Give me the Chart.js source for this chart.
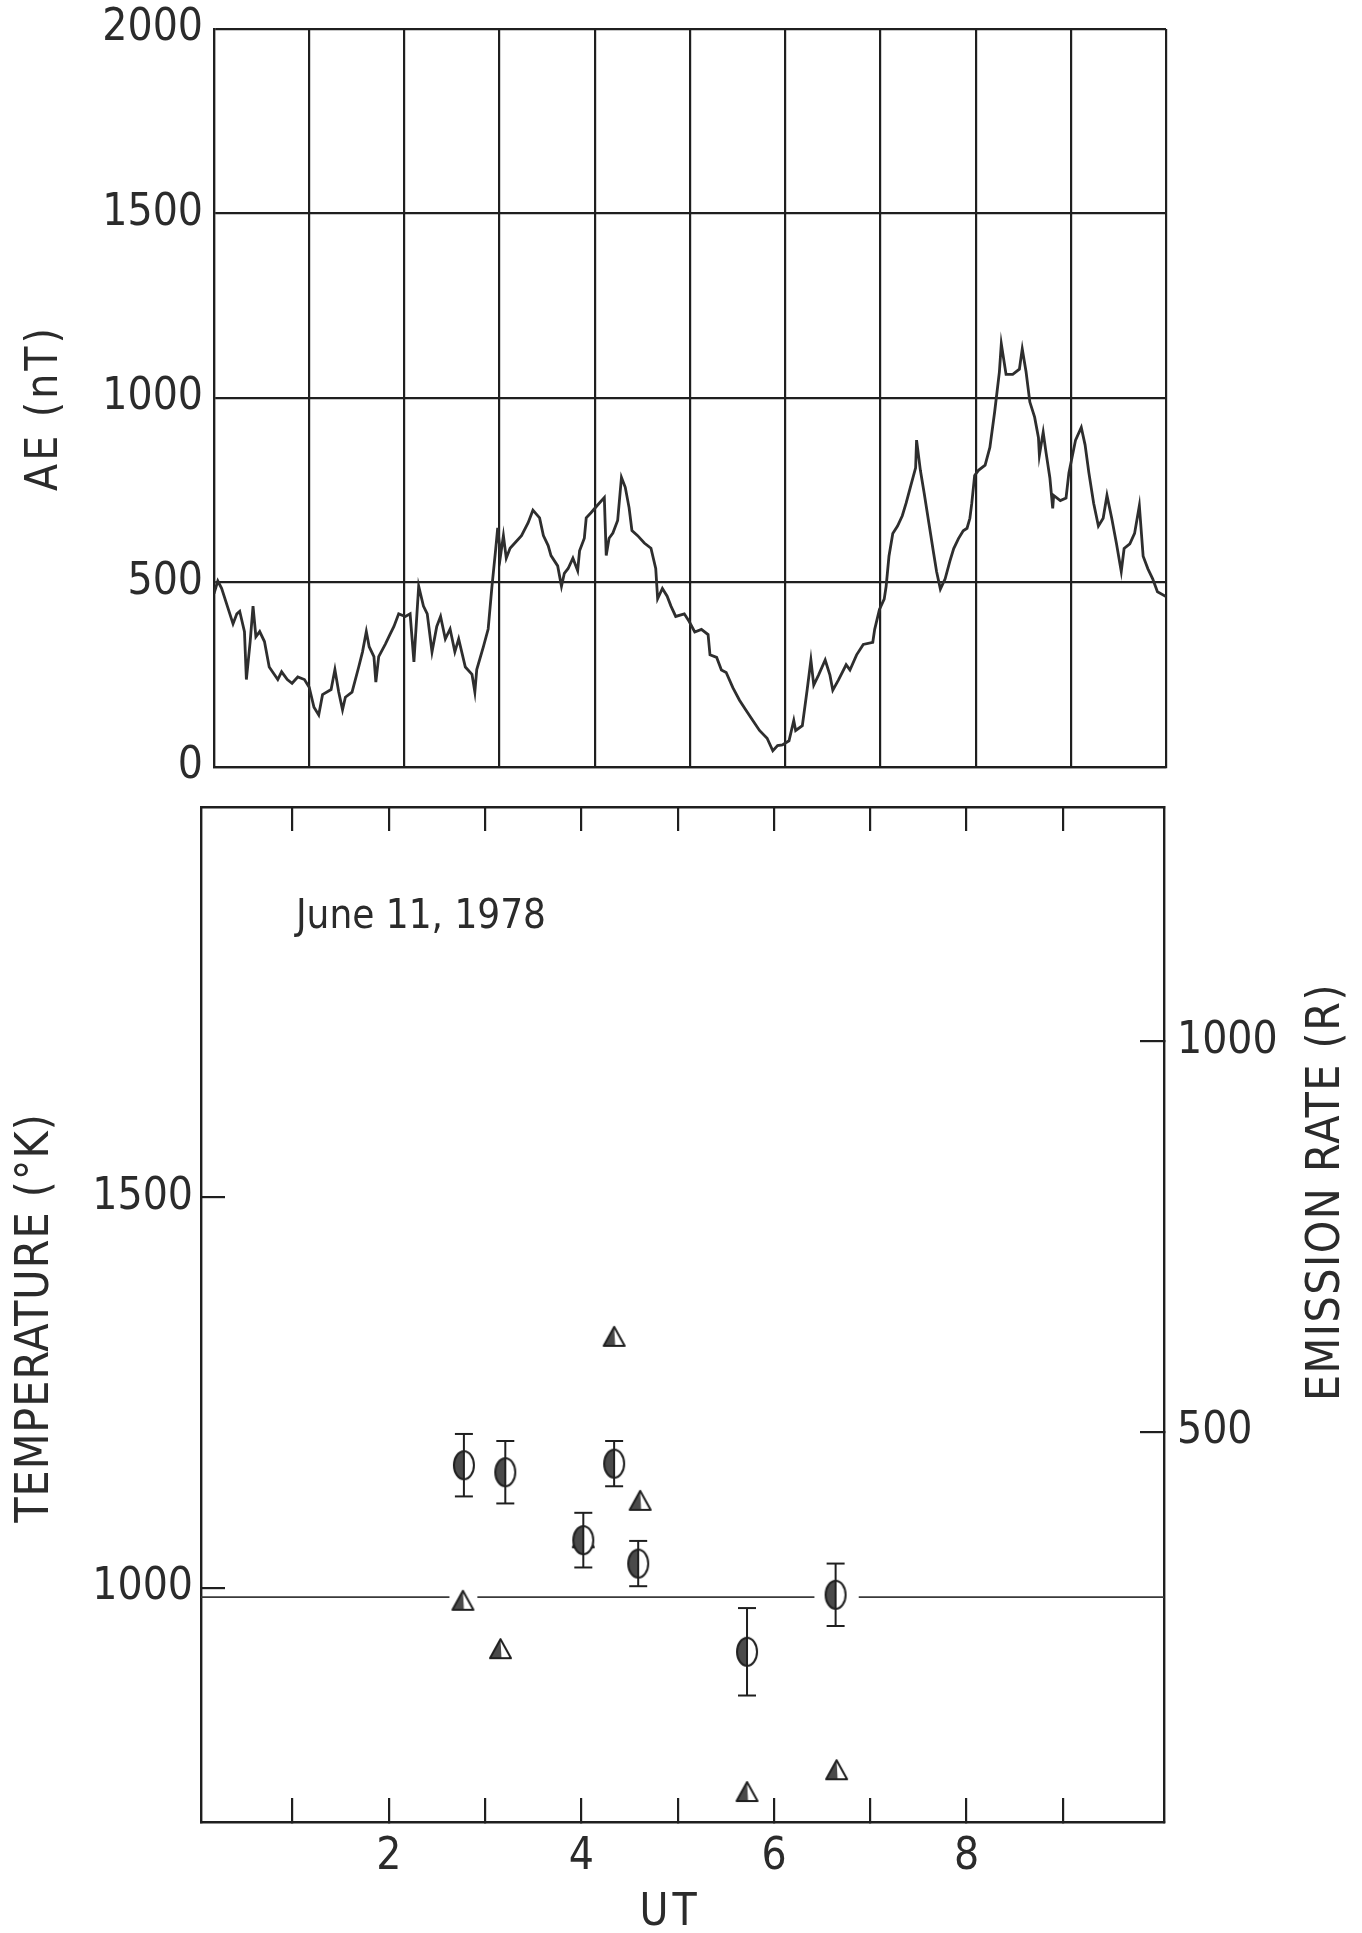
<!DOCTYPE html>
<html lang="en">
<head>
  <meta charset="UTF-8" />
  <title>AE index and temperature / emission rate, June 11, 1978</title>
  <script src="https://cdn.jsdelivr.net/npm/chart.js"></script>
  <style>
    * { margin: 0; padding: 0; box-sizing: border-box; }
    html, body { width: 1362px; height: 1933px; background: #fff; overflow: hidden; }
    canvas { position: absolute; left: 0; }
    #aeChart { top: 0; }
    #tempChart { top: 790px; }
  </style>
</head>
<body>
  <canvas id="aeChart" width="1362" height="790"></canvas>
  <canvas id="tempChart" width="1362" height="1143"></canvas>

  <script>
    /* ---------- data ---------- */
    // AE index (nT) vs UT (hours)
    const aeTimes = [
      0.00,0.04,0.08,0.20,0.24,0.27,0.32,0.34,0.38,0.41,
      0.44,0.48,0.53,0.58,0.67,0.71,0.77,0.82,0.88,0.95,
      1.00,1.05,1.10,1.14,1.23,1.27,1.31,1.35,1.38,1.45,
      1.52,1.56,1.60,1.63,1.68,1.70,1.73,1.80,1.85,1.89,
      1.94,2.01,2.06,2.10,2.15,2.20,2.24,2.29,2.34,2.38,
      2.43,2.48,2.53,2.57,2.64,2.71,2.74,2.76,2.83,2.88,
      2.92,2.96,2.98,3.01,3.04,3.07,3.11,3.16,3.23,3.30,
      3.35,3.42,3.46,3.51,3.54,3.61,3.65,3.68,3.72,3.77,
      3.82,3.84,3.89,3.91,3.96,4.03,4.10,4.12,4.15,4.19,
      4.24,4.28,4.32,4.36,4.39,4.45,4.52,4.59,4.64,4.66,
      4.71,4.76,4.80,4.85,4.94,4.99,5.05,5.12,5.19,5.21,
      5.28,5.33,5.38,5.45,5.52,5.59,5.66,5.73,5.81,5.87,
      5.92,5.97,6.04,6.09,6.11,6.18,6.23,6.27,6.30,6.35,
      6.42,6.47,6.50,6.56,6.64,6.68,6.75,6.82,6.92,6.94,
      6.99,7.04,7.06,7.09,7.13,7.18,7.23,7.27,7.32,7.37,
      7.38,7.42,7.46,7.51,7.56,7.59,7.63,7.68,7.73,7.77,
      7.82,7.87,7.91,7.94,7.96,7.99,8.03,8.10,8.15,8.20,
      8.25,8.27,8.32,8.39,8.46,8.49,8.53,8.57,8.62,8.66,
      8.67,8.71,8.74,8.78,8.81,8.82,8.89,8.95,8.98,9.05,
      9.11,9.15,9.19,9.24,9.29,9.34,9.38,9.43,9.48,9.53,
      9.56,9.62,9.67,9.72,9.76,9.81,9.86,9.91,10.00
    ];
    const aeValues = [
      470,504,484,388,415,422,367,237,340,436,
      353,367,340,271,237,258,237,227,244,237,
      216,162,141,196,210,264,203,155,189,203,
      271,312,367,326,299,230,299,333,360,381,
      415,408,415,285,490,436,415,312,381,408,
      347,374,312,347,271,251,203,264,326,374,
      490,593,648,573,627,566,593,607,627,662,
      696,675,627,600,573,545,490,525,538,566,
      532,586,620,675,689,710,730,573,620,634,
      668,785,758,703,641,627,607,593,538,456,
      484,463,436,408,415,395,366,373,359,304,
      297,263,256,215,181,153,126,99,78,44,
      58,60,71,126,99,112,208,290,222,249,
      290,249,208,236,277,263,304,332,338,373,
      427,455,489,571,633,653,681,715,763,811,
      886,804,742,660,578,530,482,510,558,592,
      619,640,647,674,715,790,804,818,866,962,
      1071,1147,1064,1064,1078,1133,1071,989,948,893,
      845,907,852,784,701,736,722,729,797,886,
      920,873,797,715,653,674,736,674,605,530,
      592,605,633,708,571,537,510,475,462
    ];

    // Temperature (K) with error bars
    const tempTimes  = [2.78, 3.21, 4.02, 4.34, 4.59, 5.72, 6.64];
    const tempValues = [1157, 1148, 1061, 1159, 1031, 918, 991];
    const tempErrors = [40, 40, 35, 29, 29, 56, 40];

    // Emission rate (R)
    const emisTimes  = [2.77, 3.16, 4.02, 4.34, 4.61, 5.72, 6.65];
    const emisValues = [284, 222, 364, 622, 412, 39, 67];

    // horizontal reference temperature line, drawn in pieces
    const refTemp = 988;
    const refSegments = [[0.05, 2.63], [2.92, 6.42], [6.88, 10.05]];

    // ticks
    const aeTicks = [0, 500, 1000, 1500, 2000];
    const xTickValues = [1, 2, 3, 4, 5, 6, 7, 8, 9];
    const xLabelValues = [2, 4, 6, 8];
    const tempTickValues = [1000, 1500];
    const emisTickValues = [500, 1000];

    /* ---------- styling helpers ---------- */
    const ink = '#1f1f1f';
    const textInk = '#2b2b2b';
    const family = "'DejaVu Sans Condensed', 'DejaVu Sans', sans-serif";
    const tickFont = { family: family, size: 44, weight: 'normal' };

    // half-filled ellipse marker (temperature)
    function halfEllipse(w, h) {
      const c = document.createElement('canvas');
      c.width = w + 4; c.height = h + 4;
      const g = c.getContext('2d');
      const cx = c.width / 2, cy = c.height / 2;
      g.fillStyle = '#fff';
      g.beginPath(); g.ellipse(cx, cy, w / 2, h / 2, 0, 0, Math.PI * 2); g.fill();
      g.fillStyle = '#4a4a4a';
      g.beginPath(); g.ellipse(cx, cy, w / 2, h / 2, 0, Math.PI / 2, Math.PI * 1.5); g.closePath(); g.fill();
      g.lineWidth = 2; g.strokeStyle = ink;
      g.beginPath(); g.ellipse(cx, cy, w / 2, h / 2, 0, 0, Math.PI * 2); g.stroke();
      return c;
    }

    // half-filled triangle marker (emission rate)
    function halfTriangle(w, h) {
      const c = document.createElement('canvas');
      c.width = w + 4; c.height = h + 4;
      const g = c.getContext('2d');
      const l = 2, r = w + 2, t = 2, b = h + 2, m = (l + r) / 2;
      g.fillStyle = '#fff';
      g.beginPath(); g.moveTo(m, t); g.lineTo(r, b); g.lineTo(l, b); g.closePath(); g.fill();
      g.fillStyle = '#4a4a4a';
      g.beginPath(); g.moveTo(m, t); g.lineTo(m + 1, b); g.lineTo(l, b); g.closePath(); g.fill();
      g.lineWidth = 2; g.strokeStyle = ink; g.lineJoin = 'round';
      g.beginPath(); g.moveTo(m, t); g.lineTo(r, b); g.lineTo(l, b); g.closePath(); g.stroke();
      return c;
    }

    // free text (axis titles, date) drawn at fixed spots
    const freeText = {
      id: 'freeText',
      afterDraw(chart, args, opts) {
        const ctx = chart.ctx;
        (opts.items || []).forEach(it => {
          ctx.save();
          ctx.font = it.font;
          ctx.fillStyle = textInk;
          ctx.textAlign = it.align || 'center';
          ctx.textBaseline = 'middle';
          if (it.spacing) ctx.letterSpacing = it.spacing;
          ctx.translate(it.x, it.y);
          if (it.rotate) ctx.rotate(it.rotate);
          ctx.fillText(it.text, 0, 0);
          ctx.restore();
        });
      }
    };

    const fixedTicks = values => scale => { scale.ticks = values.map(v => ({ value: v })); };
    // pin an axis box to a given size and stop label overhang from shrinking the plot
    const pinWidth = w => s => { s.width = w; s.paddingTop = 0; s.paddingBottom = 0; s.paddingLeft = 0; s.paddingRight = 0; };
    const pinHeight = h => s => { s.height = h; s.paddingTop = 0; s.paddingBottom = 0; s.paddingLeft = 0; s.paddingRight = 0; };
    const plain = v => String(v);

    /* ---------- top panel: AE ---------- */
    new Chart(document.getElementById('aeChart'), {
      type: 'scatter',
      data: {
        datasets: [{
          data: aeTimes.map((t, i) => ({ x: t, y: aeValues[i] })),
          showLine: true,
          borderColor: '#2e2e2e',
          borderWidth: 2.8,
          pointRadius: 0,
          tension: 0
        }]
      },
      options: {
        responsive: false,
        animation: false,
        layout: { padding: { top: 29, right: 196, left: 0, bottom: 0 } },
        plugins: {
          legend: { display: false },
          tooltip: { enabled: false },
          freeText: {
            items: [
              { text: 'AE (nT)', x: 46, y: 408, rotate: -Math.PI / 2, font: '44px ' + family, spacing: '3px' }
            ]
          }
        },
        scales: {
          x: {
            type: 'linear', min: 0, max: 10,
            ticks: { stepSize: 1, display: false },
            grid: { color: ink, lineWidth: 2.2, drawTicks: false },
            border: { color: ink, width: 2.2 },
            afterFit: pinHeight(23)
          },
          y: {
            min: 0, max: 2000,
            afterBuildTicks: fixedTicks(aeTicks),
            ticks: { font: tickFont, color: textInk, padding: 11, callback: plain },
            grid: { color: ink, lineWidth: 2.2, drawTicks: false },
            border: { color: ink, width: 2.2 },
            afterFit: pinWidth(214)
          }
        }
      },
      plugins: [freeText]
    });

    /* ---------- bottom panel: temperature and emission rate ---------- */
    const errorBarData = [];
    tempTimes.forEach((t, i) => {
      errorBarData.push({ x: t, y: tempValues[i] - tempErrors[i] });
      errorBarData.push({ x: t, y: tempValues[i] + tempErrors[i] });
      errorBarData.push({ x: t, y: null });
    });
    const refData = [];
    refSegments.forEach(([a, b]) => {
      refData.push({ x: a, y: refTemp }, { x: b, y: refTemp }, { x: b, y: null });
    });

    const inwardGrid = { drawOnChartArea: false, drawTicks: true, tickLength: -24, color: ink, lineWidth: 2.2 };
    const frame = { color: ink, width: 2.4 };

    new Chart(document.getElementById('tempChart'), {
      type: 'scatter',
      data: {
        datasets: [
          {
            label: 'error bars',
            data: errorBarData,
            yAxisID: 'y',
            showLine: true,
            spanGaps: false,
            borderColor: ink,
            borderWidth: 2,
            pointStyle: 'line',
            pointRadius: 9,
            pointBorderWidth: 2,
            pointBorderColor: ink,
            order: 0
          },
          {
            label: 'Temperature',
            data: tempTimes.map((t, i) => ({ x: t, y: tempValues[i] })),
            yAxisID: 'y',
            pointStyle: halfEllipse(20, 28),
            order: 1
          },
          {
            label: 'Emission rate',
            data: emisTimes.map((t, i) => ({ x: t, y: emisValues[i] })),
            yAxisID: 'y2',
            pointStyle: halfTriangle(21, 19),
            order: 2
          },
          {
            label: 'reference',
            data: refData,
            yAxisID: 'y',
            showLine: true,
            spanGaps: false,
            borderColor: '#3a3a3a',
            borderWidth: 1.8,
            pointRadius: 0,
            order: 3
          }
        ]
      },
      options: {
        responsive: false,
        animation: false,
        layout: { padding: 0 },
        plugins: {
          legend: { display: false },
          tooltip: { enabled: false },
          freeText: {
            items: [
              { text: 'TEMPERATURE (°K)', x: 36, y: 528, rotate: -Math.PI / 2, font: '46px ' + family, spacing: '1px' },
              { text: 'EMISSION RATE (R)', x: 1327, y: 402, rotate: -Math.PI / 2, font: '46px ' + family, spacing: '1.5px' },
              { text: 'UT', x: 670, y: 1124, font: '44px ' + family, spacing: '4px' },
              { text: 'June 11, 1978', x: 296, y: 128, align: 'left', font: '40px ' + family }
            ]
          }
        },
        scales: {
          x: {
            type: 'linear', position: 'bottom', min: 0.05, max: 10.05,
            afterBuildTicks: fixedTicks(xTickValues),
            ticks: {
              font: tickFont, color: textInk, padding: 33, autoSkip: false, maxRotation: 0,
              callback: v => (xLabelValues.includes(v) ? String(v) : '')
            },
            grid: inwardGrid,
            border: frame,
            afterFit: pinHeight(111)
          },
          xTop: {
            type: 'linear', position: 'top', min: 0.05, max: 10.05,
            afterBuildTicks: fixedTicks(xTickValues),
            ticks: { callback: () => '', padding: 0 },
            grid: inwardGrid,
            border: frame,
            afterFit: pinHeight(17)
          },
          y: {
            position: 'left', min: 700, max: 2000,
            afterBuildTicks: fixedTicks(tempTickValues),
            ticks: { font: tickFont, color: textInk, padding: 32, callback: plain },
            grid: inwardGrid,
            border: frame,
            afterFit: pinWidth(201)
          },
          y2: {
            position: 'right', min: 0, max: 1300,
            afterBuildTicks: fixedTicks(emisTickValues),
            ticks: { font: tickFont, color: textInk, padding: 37, callback: plain },
            grid: inwardGrid,
            border: frame,
            afterFit: pinWidth(198)
          }
        }
      },
      plugins: [freeText]
    });
  </script>
</body>
</html>
